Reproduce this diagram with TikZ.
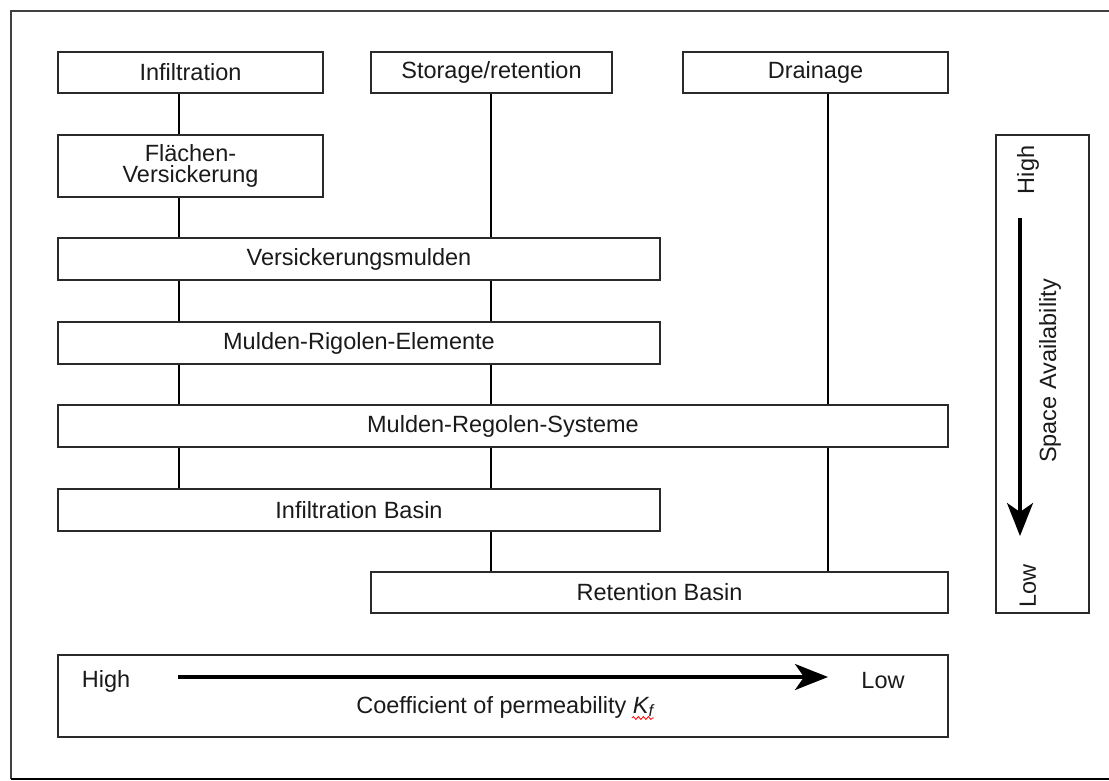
\documentclass[tikz,border=0pt]{standalone}
\usepackage{fontspec}
\setmainfont{Liberation Sans}
\usetikzlibrary{arrows.meta,calc,decorations.pathmorphing}

\definecolor{frameline}{HTML}{404040}
\definecolor{boxline}{HTML}{2A2A2A}
\definecolor{baseline}{HTML}{B4B4B4}
\definecolor{inktext}{HTML}{1A1A1A}

\tikzset{
  box/.style={draw=boxline, line width=2pt, inner sep=0pt, align=center,
              text=inktext, font=\fontsize{23.5}{21.5}\selectfont},
  link/.style={draw=black, line width=1.5pt},
  bigarrow/.style={line width=3.2pt, -{Stealth[length=33pt,width=26pt,inset=9pt]}},
  label/.style={inner sep=0pt, text=inktext, font=\fontsize{23.5}{21.5}\selectfont},
}

\begin{document}
\begin{tikzpicture}[x=1pt,y=-1pt]
  \useasboundingbox (0,0) rectangle (1109,781);

  % page frame
  \draw[frameline, line width=2pt] (11,779) -- (11,11) -- (1109,11);
  \draw[baseline, line width=2pt] (11,779) -- (1109,779);

  % column positions of the connectors
  \coordinate (colA) at (179,0);
  \coordinate (colB) at (491,0);
  \coordinate (colC) at (828,0);

  % column headings
  \node[box, minimum width=265, minimum height=41] (inf) at (190.5,72.5) {Infiltration};
  \node[box, minimum width=241, minimum height=41] (sto) at (491.5,72.5) {Storage/retention};
  \node[box, minimum width=265, minimum height=41] (dra) at (815.5,72.5) {Drainage};

  % measures
  \node[box, minimum width=265, minimum height=62] (fla) at (190.5,166) {Flächen-\\Versickerung};
  \node[box, minimum width=602, minimum height=42] (vm)  at (359,259) {Versickerungsmulden};
  \node[box, minimum width=602, minimum height=42] (mre) at (359,343) {Mulden-Rigolen-Elemente};
  \node[box, minimum width=890, minimum height=42] (mrs) at (503,426) {Mulden-Regolen-Systeme};
  \node[box, minimum width=602, minimum height=42] (ib)  at (359,510) {Infiltration Basin};
  \node[box, minimum width=577, minimum height=41] (rb)  at (659.5,592.5) {Retention Basin};

  % infiltration column
  \draw[link] (inf.south -| colA) -- (fla.north -| colA);
  \draw[link] (fla.south -| colA) -- (vm.north -| colA);
  \draw[link] (vm.south -| colA) -- (mre.north -| colA);
  \draw[link] (mre.south -| colA) -- (mrs.north -| colA);
  \draw[link] (mrs.south -| colA) -- (ib.north -| colA);

  % storage/retention column
  \draw[link] (sto.south -| colB) -- (vm.north -| colB);
  \draw[link] (vm.south -| colB) -- (mre.north -| colB);
  \draw[link] (mre.south -| colB) -- (mrs.north -| colB);
  \draw[link] (mrs.south -| colB) -- (ib.north -| colB);
  \draw[link] (ib.south -| colB) -- (rb.north -| colB);

  % drainage column
  \draw[link] (dra.south -| colC) -- (mrs.north -| colC);
  \draw[link] (mrs.south -| colC) -- (rb.north -| colC);

  % space availability scale
  \node[box, minimum width=93, minimum height=478] (space) at (1042.5,374) {};
  \node[label, rotate=90] (spHigh) at (1028,170) {High};
  \node[label, rotate=90] (spLow) at (1028,586) {Low};
  \node[label, rotate=90] (spText) at (1050,371) {Space Availability};
  \coordinate (spFrom) at (1020,218);
  \coordinate (spTo) at (1020,536);
  \draw[bigarrow] (spFrom) -- (spTo);

  % permeability scale
  \node[box, minimum width=890, minimum height=82] (perm) at (503,696) {};
  \node[label] (pHigh) at (106,681) {High};
  \node[label] (pLow) at (883,681) {Low};
  \coordinate (pFrom) at (178,677);
  \coordinate (pTo) at (828,677);
  \draw[bigarrow] (pFrom) -- (pTo);
  \node[label, anchor=base] (coef) at (505,713) {Coefficient of permeability \textit{K\textsubscript{f}}};
  \draw[red, line width=0.8pt, decorate,
        decoration={snake, amplitude=1.5pt, segment length=5pt}]
    ($(coef.base east)+(-22,5)$) -- ($(coef.base east)+(0,5)$);
\end{tikzpicture}
\end{document}
